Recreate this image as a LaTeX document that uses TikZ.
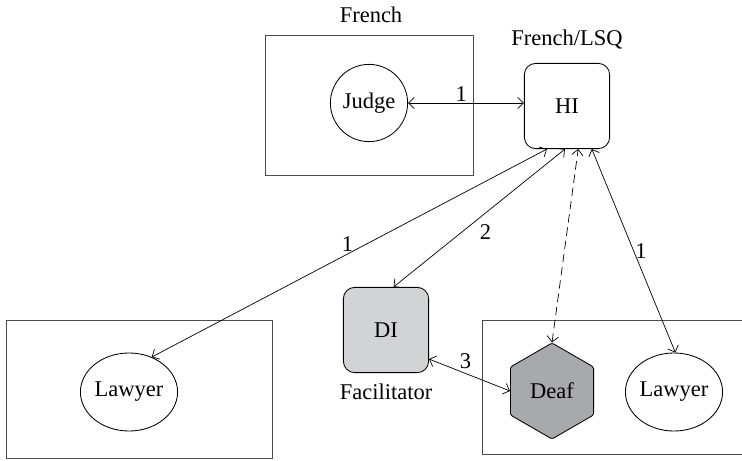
\documentclass[tikz,border=0pt]{standalone}
\usepackage{fontspec}
\setmainfont{Liberation Serif}
\usepackage{xcolor}
\usepackage{tikz}
\usetikzlibrary{shapes.geometric, arrows.meta, positioning}
\definecolor{difill}{HTML}{D1D3D4}
\definecolor{deaffill}{HTML}{A7A9AC}
\newcommand{\lblfont}{\fontsize{16}{19}\selectfont}
\tikzset{
  room/.style={draw=black!70, line width=0.6pt},
  party/.style={draw, ellipse, line width=0.6pt, inner sep=0pt,
                minimum width=2.2cm, minimum height=1.95cm, font=\lblfont},
  interp/.style={draw, rounded corners=8pt, line width=0.6pt,
                 minimum width=2.13cm, minimum height=2.13cm, font=\lblfont},
  deafnode/.style={draw, regular polygon, regular polygon sides=6,
                   shape border rotate=30, rounded corners=1.5pt,
                   minimum size=2.4cm, inner sep=0pt, line width=0.6pt,
                   fill=deaffill, font=\lblfont},
  link/.style={<->, line width=0.5pt,
               >={Straight Barb[length=4pt,width=8pt]}},
  tag/.style={font=\lblfont, inner sep=1pt}
}

\begin{document}
\begin{tikzpicture}[x=0.025cm, y=-0.025cm]
  \useasboundingbox (0,0) rectangle (742,460);

  % Rooms
  \draw[room] (265,35) rectangle (473,175);
  \draw[room] (6,320) rectangle (272,458);
  \draw[room] (742,320) -- (482,320) -- (482,454) -- (742,454);

  % Judge side
  \node[party, circle, minimum size=1.93cm] (judge) at (369,103) {Judge};
  \node[tag] (french) at (371,15) {French};

  % Hearing interpreter
  \node[interp] (hi) at (567,106) {HI};
  \node[tag, above=0.3cm of hi] (frlsq) {French/LSQ};

  % Deaf interpreter
  \node[interp, fill=difill] (di) at (386,330) {DI};
  \node[tag, below=0.22cm of di] (facil) {Facilitator};

  % Parties
  \node[party] (lawyerL) at (129,392) {Lawyer};
  \node[deafnode] (deaf) at (552,391) {Deaf};
  \node[party] (lawyerR) at (674,392) {Lawyer};

  % Links
  \draw[link] (judge.east) -- (judge.east -| hi.west)
      node[tag, pos=0.46, above]{1};
  \draw[link] (lawyerL.57) -- ([xshift=-0.5cm]hi.south)
      node[tag, pos=0.5, above left=0pt and -4pt]{1};
  \draw[link] (di.80) -- ([xshift=-0.05cm]hi.south)
      node[tag, pos=0.4, right=0.4cm]{2};
  \draw[link, dash pattern=on 6pt off 3.5pt] (deaf.north)
      -- ([xshift=0.28cm]hi.south);
  \draw[link] (lawyerR.88) -- ([xshift=0.62cm]hi.south)
      node[tag, pos=0.5, right]{1};
  \draw[link] (di.-34) -- (deaf.west)
      node[tag, pos=0.45, above=2pt]{3};
\end{tikzpicture}
\end{document}
